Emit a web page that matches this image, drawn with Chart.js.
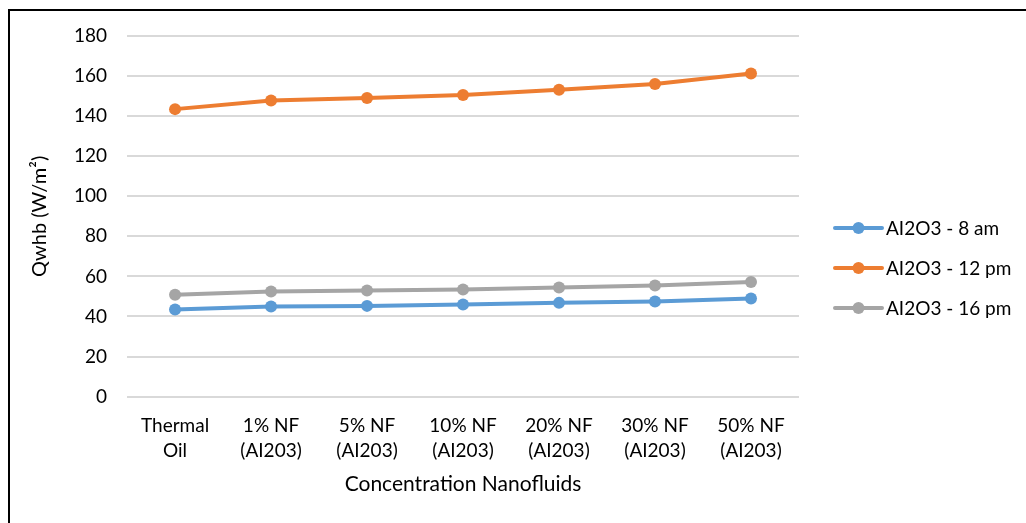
<!DOCTYPE html>
<html>
<head>
<meta charset="utf-8">
<script src="https://cdn.jsdelivr.net/npm/chart.js@4/dist/chart.umd.min.js"></script>
<style>
  html, body { margin: 0; padding: 0; background: #fff; }
  #wrap { position: relative; width: 1026px; height: 523px; overflow: hidden; }
  #frame { position: absolute; left: 8px; top: 9px; width: 1100px; height: 600px;
           border-left: 2px solid #000; border-top: 2px solid #000; pointer-events: none; }
  canvas { position: absolute; left: 0; top: 0; }
</style>
</head>
<body>
<div id="wrap">
  <canvas id="grafica" width="1026" height="523"></canvas>
  <div id="frame"></div>
</div>
<script>
const categorias = [
    ['Thermal', 'Oil'],
    ['1% NF', '(AI203)'],
    ['5% NF', '(AI203)'],
    ['10% NF', '(AI203)'],
    ['20% NF', '(AI203)'],
    ['30% NF', '(AI203)'],
    ['50% NF', '(AI203)']
];
const serie8am = [43.5, 45.0, 45.3, 46.0, 46.8, 47.5, 49.0];
const serie12pm = [143.5, 147.8, 149.0, 150.5, 153.2, 156.0, 161.3];
const serie16pm = [50.8, 52.5, 53.0, 53.5, 54.5, 55.5, 57.2];
const etiquetas = ['AI2O3 - 8 am', 'AI2O3 - 12 pm', 'AI2O3 - 16 pm'];
const colores = ['#5B9BD5', '#ED7D31', '#A5A5A5'];

const fuente = 'Lato, "Open Sans", sans-serif';

const crearSerie = (label, data, color) => ({
    label: label,
    data: data,
    borderColor: color,
    backgroundColor: color,
    borderWidth: 4,
    pointRadius: 6,
    pointHoverRadius: 6,
    pointBorderWidth: 0,
    tension: 0
});

// leyenda a la derecha: linea con punto en medio
const leyendaDerecha = {
    id: 'leyendaDerecha',
    afterDraw(chart) {
        const ctx = chart.ctx;
        const x0 = 835, x1 = 882, yInicio = 228, paso = 40;
        chart.data.datasets.forEach((ds, i) => {
            const y = yInicio + i * paso;
            ctx.save();
            ctx.strokeStyle = ds.borderColor;
            ctx.lineWidth = 4;
            ctx.lineCap = 'round';
            ctx.beginPath();
            ctx.moveTo(x0, y);
            ctx.lineTo(x1, y);
            ctx.stroke();
            ctx.fillStyle = ds.borderColor;
            ctx.beginPath();
            ctx.arc((x0 + x1) / 2, y, 6, 0, Math.PI * 2);
            ctx.fill();
            ctx.fillStyle = '#000';
            ctx.font = '19px ' + fuente;
            ctx.textBaseline = 'middle';
            ctx.textAlign = 'left';
            ctx.fillText(ds.label, x1 + 4, y + 1);
            ctx.restore();
        });
    }
};

const ctx = document.getElementById('grafica').getContext('2d');

const grafica = new Chart(ctx, {
    type: 'line',
    data: {
        labels: categorias,
        datasets: [
            crearSerie(etiquetas[0], serie8am, colores[0]),
            crearSerie(etiquetas[1], serie12pm, colores[1]),
            crearSerie(etiquetas[2], serie16pm, colores[2])
        ]
    },
    options: {
        responsive: false,
        animation: false,
        layout: { padding: { left: 28, right: 227, top: 36, bottom: 17 } },
        plugins: {
            legend: { display: false },
            tooltip: { enabled: false }
        },
        scales: {
            x: {
                offset: true,
                grid: { display: false, drawTicks: false },
                border: { display: false },
                ticks: {
                    color: '#000',
                    font: { family: fuente, size: 19, lineHeight: 1.32 },
                    padding: 17,
                    maxRotation: 0,
                    autoSkip: false
                },
                title: {
                    display: true,
                    text: 'Concentration Nanofluids',
                    color: '#000',
                    font: { family: fuente, size: 21 },
                    padding: { top: -9, bottom: 9 }
                }
            },
            y: {
                min: 0,
                max: 180,
                ticks: {
                    stepSize: 20,
                    color: '#000',
                    font: { family: fuente, size: 19 },
                    padding: 20
                },
                grid: { color: '#D9D9D9', lineWidth: 2, drawTicks: false },
                border: { display: false },
                title: {
                    display: true,
                    text: 'Qwhb (W/m²)',
                    color: '#000',
                    font: { family: fuente, size: 20 },
                    padding: { top: 0, bottom: 2 }
                }
            }
        }
    },
    plugins: [leyendaDerecha]
});
</script>
</body>
</html>
